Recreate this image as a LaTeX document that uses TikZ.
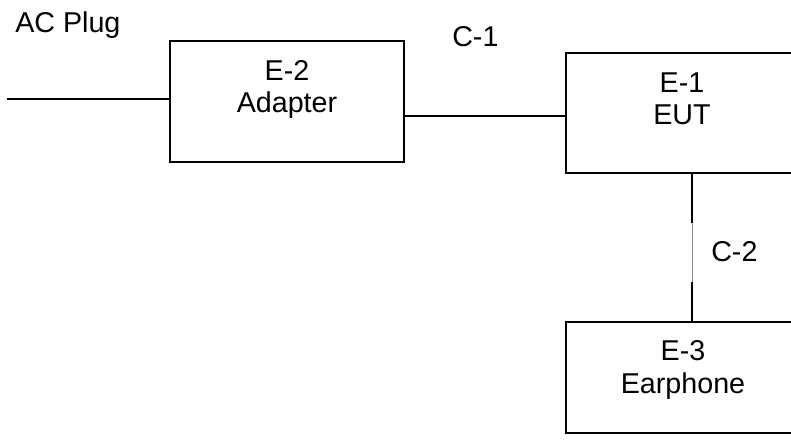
\documentclass[tikz,border=0pt]{standalone}
\usepackage{fontspec}
\setmainfont{Liberation Sans}
\usetikzlibrary{calc}
\begin{document}
\begin{tikzpicture}[x=0.75pt,y=-0.75pt,
  box/.style={draw=black,line width=1.5pt,minimum width=234*0.75pt,inner sep=0pt,outer sep=0pt},
  lbl/.style={font=\fontsize{21.5}{24}\selectfont,inner sep=0pt,anchor=base},
  wire/.style={line width=1.2pt}]
\useasboundingbox (0,0) rectangle (791,444);
\clip (0,0) rectangle (791,444);
% boxes
\node[box,minimum height=121*0.75pt] (e2) at (287,101.5) {};
\node[box,minimum height=120*0.75pt] (e1) at (683,113) {};
\node[box,minimum height=111*0.75pt] (e3) at (683,377.5) {};
% box texts
\node[lbl] (e2a) at (287,80) {E-2};
\node[lbl] (e2b) at (287,112) {Adapter};
\node[lbl] (e1a) at (682,92) {E-1};
\node[lbl] (e1b) at (682,124) {EUT};
\node[lbl] (e3a) at (683,360) {E-3};
\node[lbl] (e3b) at (683,393) {Earphone};
% labels
\node[lbl,anchor=base west] (ac) at (15,32) {AC Plug};
\node[lbl,anchor=base west] (c1) at (452,46) {C-1};
\node[lbl,anchor=base west] (c2) at (711,261) {C-2};
% connectors
\coordinate (plug) at (7,99);
\draw[wire,line width=1.5pt] (plug) -- (plug -| e2.west);
\draw[wire] (e2.east |- 0,116) -- (e1.west |- 0,116);
\coordinate (v1) at ($(e1.south)+(9,0)$);
\coordinate (v2) at (692,223);
\coordinate (v3) at (692,282);
\coordinate (v4) at ($(e3.north)+(9,0)$);
\draw[wire] (v1) -- (v2);
\draw[line width=0.6pt,black!45] (v2) -- (v3);
\draw[wire] (v3) -- (v4);
\end{tikzpicture}
\end{document}
